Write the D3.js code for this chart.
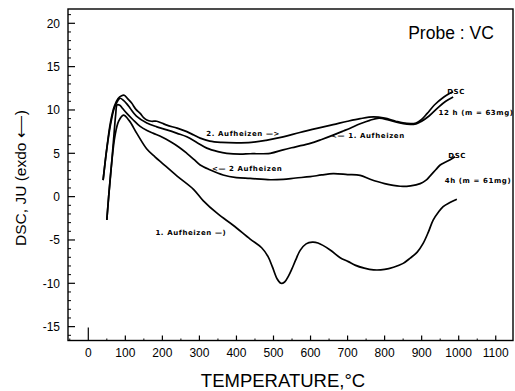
<!DOCTYPE html>
<html>
<head>
<meta charset="utf-8">
<script src="https://cdn.jsdelivr.net/npm/d3@7"></script>
<style>
  html, body { margin: 0; padding: 0; background: #fff; }
  svg { display: block; }
</style>
</head>
<body>
<svg id="chart" width="515" height="391"></svg>
<script>
// ---- data (temperature °C, DSC signal) ----
const curve12h2nd = [[40,1.9],[50,5.6],[60,8.6],[70,10.4],[80,11.3],[90,11.65],[97,11.7],[106,11.3],[117,10.8],[128,10.1],[140,9.6],[150,9.1],[158,8.85],[170,8.7],[185,8.7],[198,8.5],[212,8.25],[240,7.9],[266,7.5],[285,7.1],[302,6.75],[328,6.4],[360,6.25],[400,6.2],[440,6.25],[480,6.5],[526,6.9],[571,7.4],[620,7.9],[661,8.3],[700,8.7],[734,9.0],[770,9.2],[800,9.05],[830,8.7],[860,8.45],[885,8.5],[900,8.9],[915,9.6],[935,10.6],[960,11.5],[975,11.9],[985,12.1]];
const curve12h1st = [[40,1.9],[50,5.5],[60,8.3],[70,10.2],[80,11.1],[86,11.35],[95,11.1],[104,10.7],[113,10.2],[130,9.3],[158,8.5],[185,8.05],[212,7.7],[240,7.3],[266,6.9],[295,6.2],[320,5.6],[350,5.2],[374,5.0],[410,4.9],[437,4.95],[491,5.0],[526,5.4],[560,5.75],[599,6.15],[630,6.6],[661,7.1],[690,7.6],[707,7.9],[734,8.4],[760,8.8],[785,9.05],[810,8.85],[835,8.55],[860,8.35],[885,8.4],[900,8.7],[920,9.3],[945,10.3],[965,11.0],[985,11.5]];
const curve4h2nd = [[50,-2.7],[55,0],[63,3.85],[70,7.5],[74,9.5],[78,10.6],[85,10.55],[92,10.2],[104,9.6],[120,8.9],[140,8.1],[160,7.6],[176,7.3],[200,6.85],[221,6.35],[245,5.7],[266,5.0],[285,4.3],[302,3.65],[328,3.1],[364,2.5],[400,2.2],[437,2.1],[491,1.95],[526,2.0],[560,2.15],[599,2.3],[630,2.5],[661,2.65],[700,2.55],[734,2.45],[761,2.0],[800,1.5],[842,1.2],[870,1.25],[896,1.5],[912,1.9],[923,2.4],[938,3.1],[950,3.65],[965,4.0],[977,4.25],[990,4.6]];
const curve4h1st = [[50,-2.7],[55,0],[63,3.85],[72,7.0],[82,8.7],[95,9.4],[110,8.8],[131,7.3],[158,5.5],[180,4.6],[200,3.85],[239,2.4],[284,0.85],[310,-0.45],[350,-2.0],[391,-3.3],[437,-4.9],[468,-5.9],[485,-6.9],[497,-8.1],[510,-9.5],[520,-10.0],[530,-9.85],[540,-9.2],[550,-8.3],[560,-7.3],[572,-6.2],[588,-5.45],[605,-5.25],[620,-5.35],[653,-6.15],[680,-7.05],[702,-7.5],[720,-7.9],[745,-8.25],[770,-8.45],[800,-8.4],[824,-8.15],[850,-7.7],[869,-7.1],[888,-6.4],[904,-5.4],[918,-4.1],[931,-2.7],[945,-1.8],[958,-1.15],[975,-0.7],[995,-0.3]];

const xTicks = [0,100,200,300,400,500,600,700,800,900,1000,1100];
const yTicks = [-15,-10,-5,0,5,10,15,20];

const curveLabels = [
  {t: "2. Aufheizen \u2014>", x: 418, y: 7.3},
  {t: "<\u2014 1. Aufheizen", x: 755, y: 7.05},
  {t: "<\u2014 2 Aufheizen", x: 429, y: 3.25},
  {t: "1. Aufheizen \u2014)", x: 277, y: -4.2},
  {t: "DSC", x: 993, y: 12.1},
  {t: "12 h (m = 63mg)", x: 1047, y: 9.65},
  {t: "DSC", x: 996, y: 4.7},
  {t: "4h (m = 61mg)", x: 1052, y: 1.8}
];

// ---- layout ----
const svg = d3.select("#chart");
const L = 68, R = 513, T = 9, B = 340.5;
const x = d3.scaleLinear().domain([-54.8, 1146.6]).range([L, R]);
const y = d3.scaleLinear().domain([-16.6, 21.65]).range([B, T]);

// frame
svg.append("rect").attr("x", L).attr("y", T).attr("width", R - L).attr("height", B - T)
  .attr("fill", "none").attr("stroke", "#000").attr("stroke-width", 1.4);

// y axis ticks (inward)
const yMinor = d3.range(-16, 22, 1).filter(v => !yTicks.includes(v));
svg.append("g").selectAll("line").data(yTicks).join("line")
  .attr("x1", L).attr("x2", L + 7).attr("y1", d => y(d)).attr("y2", d => y(d))
  .attr("stroke", "#000").attr("stroke-width", 1.2);
svg.append("g").selectAll("line").data(yMinor).join("line")
  .attr("x1", L).attr("x2", L + 3).attr("y1", d => y(d)).attr("y2", d => y(d))
  .attr("stroke", "#000").attr("stroke-width", 1);
svg.append("g").selectAll("text").data(yTicks).join("text")
  .attr("x", L - 8).attr("y", d => y(d)).attr("dy", "0.35em")
  .attr("text-anchor", "end").attr("font-family", "Liberation Sans, Arial, sans-serif")
  .attr("font-size", 12).text(d => d);

// x axis ticks (inward)
const xMinor = d3.range(-50, 1150, 50).filter(v => !xTicks.includes(v));
svg.append("g").selectAll("line").data(xTicks).join("line")
  .attr("x1", d => x(d)).attr("x2", d => x(d)).attr("y1", B).attr("y2", d => B - (d === 0 ? 13 : 5))
  .attr("stroke", "#000").attr("stroke-width", 1.2);
svg.append("g").selectAll("line").data(xMinor).join("line")
  .attr("x1", d => x(d)).attr("x2", d => x(d)).attr("y1", B).attr("y2", B - 2)
  .attr("stroke", "#000").attr("stroke-width", 1);
svg.append("g").selectAll("text").data(xTicks).join("text")
  .attr("x", d => x(d)).attr("y", 357)
  .attr("text-anchor", "middle").attr("font-family", "Liberation Sans, Arial, sans-serif")
  .attr("font-size", 12).text(d => d);

// axis titles
svg.append("text").attr("x", 283).attr("y", 387).attr("text-anchor", "middle")
  .attr("font-family", "Liberation Sans, Arial, sans-serif").attr("font-size", 18.5)
  .text("TEMPERATURE,\u00B0C");
svg.append("text").attr("transform", "translate(26,178) rotate(-90)").attr("text-anchor", "middle")
  .attr("font-family", "Liberation Sans, Arial, sans-serif").attr("font-size", 15.5)
  .text("DSC, JU (exdo \u27F5)");

svg.append("text").attr("x", 451).attr("y", 39).attr("text-anchor", "middle")
  .attr("font-family", "Liberation Sans, Arial, sans-serif").attr("font-size", 17.5)
  .text("Probe : VC");

// curves
const line = d3.line().x(d => x(d[0])).y(d => y(d[1])).curve(d3.curveCatmullRom.alpha(0.5));
[curve12h2nd, curve12h1st, curve4h2nd, curve4h1st].forEach(c => {
  svg.append("path").datum(c).attr("d", line)
    .attr("fill", "none").attr("stroke", "#000").attr("stroke-width", 1.7)
    .attr("stroke-linejoin", "round");
});

// curve labels
svg.append("g").selectAll("text").data(curveLabels).join("text")
  .attr("x", d => x(d.x)).attr("y", d => y(d.y)).attr("dy", "0.35em")
  .attr("text-anchor", "middle").attr("font-family", "DejaVu Sans, sans-serif")
  .attr("font-weight", "bold").attr("font-size", 7).attr("letter-spacing", 0.6)
  .text(d => d.t);
</script>
</body>
</html>
